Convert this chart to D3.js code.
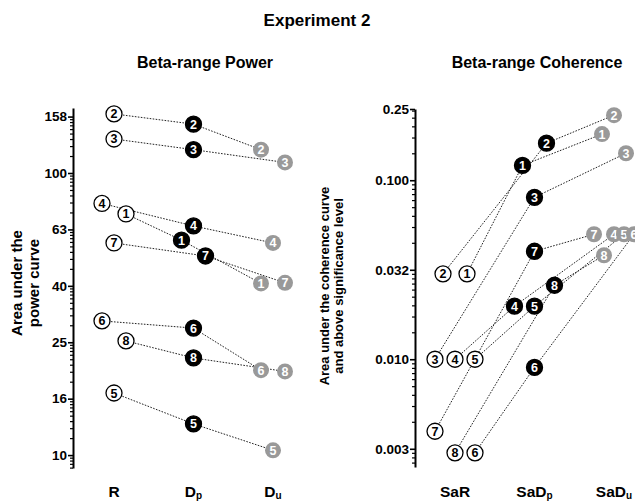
<!DOCTYPE html>
<html>
<head>
<meta charset="utf-8">
<script src="https://cdn.jsdelivr.net/npm/d3@7"></script>
<style>
body { margin: 0; background: #fff; }
text { font-family: Arial, "Liberation Sans", sans-serif; font-weight: bold; }
</style>
</head>
<body>
<svg id="chart" width="635" height="503"></svg>
<script>
// subjects 1..8, same order in every array
var subjects = ["1", "2", "3", "4", "5", "6", "7", "8"];

// Beta-range power
var powerConds = ["R", "D_p", "D_u"];
var powerR  = [71.6, 162, 132, 78, 16.6, 29.9, 56.5, 25.4];
var powerDp = [57.8, 149, 121, 64.9, 12.9, 28.2, 50.8, 22.1];
var powerDu = [40.6, 121, 109, 56.5, 10.4, 20.0, 40.8, 19.8];
var powerTicks = [10, 15.85, 25.12, 39.81, 63.1, 100, 158.5];
var powerTickLabels = ["10", "16", "25", "40", "63", "100", "158"];

// Beta-range coherence
var cohConds = ["SaR", "SaD_p", "SaD_u"];
var cohSaR  = [0.0300, 0.0300, 0.0100, 0.0100, 0.0100, 0.0030, 0.00396, 0.0030];
var cohSaDp = [0.121, 0.161, 0.0803, 0.0198, 0.0198, 0.0090, 0.0401, 0.0259];
var cohSaDu = [0.181, 0.231, 0.1415, 0.0499, 0.0499, 0.0499, 0.0499, 0.0381];
var cohTicks = [0.00316, 0.01, 0.0316, 0.1, 0.25];
var cohTickLabels = ["0.003", "0.010", "0.032", "0.100", "0.25"];

var r = 8;
var fills = ["#fff", "#000", "#999"];
var textFills = ["#000", "#fff", "#fff"];

var svg = d3.select("#chart");

svg.append("text")
    .attr("x", 317).attr("y", 26)
    .attr("text-anchor", "middle")
    .style("font-size", "17px")
    .text("Experiment 2");

// spread points of one column sideways so circles don't sit on each other
function dodge(vals, neighbor, y) {
    var idx = d3.range(vals.length).sort(function(a, b) {
        return y(vals[a]) - y(vals[b]) || a - b;
    });
    var clusters = [], cur = [idx[0]];
    for (var i = 1; i < idx.length; i++) {
        if (y(vals[idx[i]]) - y(vals[idx[i-1]]) < 3*r) cur.push(idx[i]);
        else { clusters.push(cur); cur = [idx[i]]; }
    }
    clusters.push(cur);
    var off = vals.map(function() { return 0; });
    clusters.forEach(function(c) {
        var n = c.length;
        if (n == 1) return;
        var distinct = d3.pairs(c).every(function(p) { return y(vals[p[1]]) - y(vals[p[0]]) > 2; });
        if (n > 2 && distinct) {
            c.forEach(function(k, j) {
                off[k] = (j == 0 ? 0 : (j % 2 ? -1 : 1) * Math.ceil(j/2)) * 1.5*r;
            });
        } else {
            var order = c.slice().sort(function(a, b) {
                return d3.descending(neighbor[a], neighbor[b]) || a - b;
            });
            var step = Math.min(3*r, 5*r/(n-1));
            order.forEach(function(k, j) { off[k] = (j - (n-1)/2) * step; });
        }
    });
    return off;
}

function drawPanel(o) {
    var g = svg.append("g").attr("transform", "translate(" + o.left + ",0)");

    g.append("text")
        .attr("x", o.titleX).attr("y", 68)
        .attr("text-anchor", "middle")
        .style("font-size", "16px")
        .text(o.title);

    var y = d3.scaleLog().domain(o.domain).range([o.bottom, o.top]);
    var x = d3.scalePoint().domain(o.conds).range([o.firstX, o.firstX + 159]);

    // minor ticks: log-style subdivisions inside each labelled interval
    var minor = [];
    var lo = Math.log10(o.domain[0]), hi = Math.log10(o.domain[1]);
    for (var b = Math.floor(lo / o.interval) * o.interval; b < hi; b += o.interval) {
        for (var j = 2; j <= 9; j++) {
            var v = b + Math.log10(j) * o.interval;
            if (v > lo && v < hi) minor.push(Math.pow(10, v));
        }
    }
    g.append("g")
        .call(d3.axisLeft(y).tickValues(minor).tickSize(3).tickSizeOuter(0).tickFormat(""))
        .call(function(a) { a.select(".domain").remove(); })
        .selectAll("line").attr("stroke-width", 1.2);

    var axis = g.append("g")
        .call(d3.axisLeft(y).tickValues(o.ticks).tickSize(5).tickPadding(1).tickSizeOuter(0)
            .tickFormat(function(d, i) { return o.tickLabels[i]; }));
    axis.select(".domain").attr("stroke-width", 2);
    axis.selectAll(".tick line").attr("stroke-width", 1.6);
    axis.selectAll("text").style("font-size", "13.5px").style("font-family", "Arial, 'Liberation Sans', sans-serif").style("font-weight", "bold");

    // y title
    var yt = g.append("text")
        .attr("transform", "translate(" + o.yTitleX + "," + o.yTitleY + ") rotate(-90)")
        .attr("text-anchor", "middle")
        .style("font-size", o.yTitleSize);
    o.yTitle.forEach(function(s, i) {
        yt.append("tspan").attr("x", 0).attr("dy", i ? o.yTitleSize * 1.1 : 0).text(s);
    });

    // x labels with subscripts
    o.conds.forEach(function(c) {
        var parts = c.split("_");
        var t = g.append("text")
            .attr("x", x(c)).attr("y", 497)
            .attr("text-anchor", "middle")
            .style("font-size", "15.5px");
        t.append("tspan").text(parts[0]);
        if (parts[1]) t.append("tspan").style("font-size", "10px").attr("dy", 2).text(parts[1]);
    });

    // points
    var offsets = o.series.map(function(s, c) {
        return dodge(s, o.series[c == 0 ? 1 : c - 1], y);
    });
    var pts = subjects.map(function(name, i) {
        return o.series.map(function(s, c) {
            return { name: name, cond: c, x: x(o.conds[c]) + offsets[c][i], y: y(s[i]) };
        });
    });

    var line = d3.line().x(function(d) { return d.x; }).y(function(d) { return d.y; });
    g.selectAll(".link")
        .data(pts)
        .enter()
        .append("path")
        .attr("d", line)
        .attr("fill", "none")
        .attr("stroke", "#222")
        .attr("stroke-width", 1)
        .attr("stroke-dasharray", "1.6,1.4");

    var dots = g.selectAll(".dot")
        .data(d3.merge(pts))
        .enter()
        .append("g")
        .attr("transform", function(d) { return "translate(" + d.x + "," + d.y + ")"; });
    dots.append("circle")
        .attr("r", r)
        .attr("fill", function(d) { return fills[d.cond]; })
        .attr("stroke", function(d) { return d.cond == 2 ? "none" : "#000"; })
        .attr("stroke-width", 1.3);
    dots.append("text")
        .attr("text-anchor", "middle")
        .attr("dy", "0.36em")
        .style("font-size", "12.5px")
        .attr("fill", function(d) { return textFills[d.cond]; })
        .text(function(d) { return d.name; });
}

drawPanel({
    left: 73, top: 108, bottom: 468,
    domain: [9, 170], interval: 0.2,
    ticks: powerTicks, tickLabels: powerTickLabels,
    conds: powerConds, series: [powerR, powerDp, powerDu],
    firstX: 41, title: "Beta-range Power", titleX: 132,
    yTitle: ["Area under the", "power curve"], yTitleX: -51, yTitleY: 283, yTitleSize: 15
});

drawPanel({
    left: 415, top: 109, bottom: 467,
    domain: [0.0025, 0.25], interval: 0.5,
    ticks: cohTicks, tickLabels: cohTickLabels,
    conds: cohConds, series: [cohSaR, cohSaDp, cohSaDu],
    firstX: 40, title: "Beta-range Coherence", titleX: 122,
    yTitle: ["Area under the coherence curve", "and above significance level"], yTitleX: -86, yTitleY: 286, yTitleSize: 13
});
</script>
</body>
</html>
